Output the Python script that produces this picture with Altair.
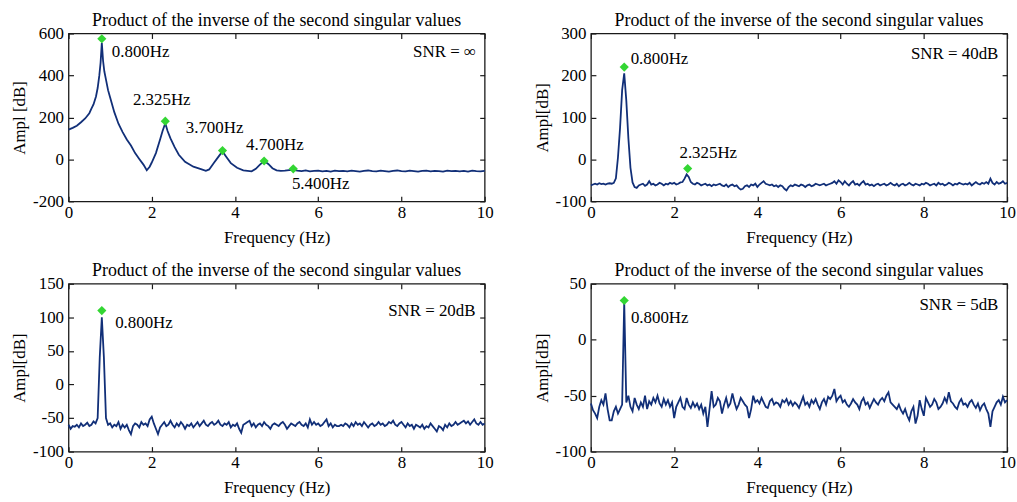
import altair as alt
import pandas as pd

FONT = "Liberation Serif"
LINE_C = "#112f78"
GREEN = "#33d633"
TITLE = "Product of the inverse of the second singular values"
FS = 17

# frequency grid (Hz) of the sampled spectra
F_GRID = [round(i * 0.05, 2) for i in range(201)]
X_TICKS = [0, 2, 4, 6, 8, 10]

# ---- panel 1 : SNR = inf ----
freq1 = [0.0, 0.1, 0.2, 0.3, 0.4, 0.5, 0.55, 0.6, 0.66, 0.7, 0.74, 0.77,
         0.8, 0.83, 0.86, 0.9, 0.95, 1.0, 1.1, 1.2, 1.3, 1.4, 1.5, 1.6, 1.7, 1.8,
         1.88, 1.95, 2.0, 2.1, 2.2, 2.26, 2.325, 2.38, 2.45, 2.55, 2.65, 2.8,
         3.0, 3.2, 3.3, 3.38, 3.5, 3.6, 3.7, 3.78, 3.9, 4.05, 4.2, 4.4, 4.5,
         4.6, 4.7, 4.8, 4.9, 5.0, 5.1, 5.2, 5.3, 5.4, 5.5,
         5.6, 5.7, 5.8, 5.9, 6.0, 6.1, 6.2, 6.3, 6.4, 6.5,
         6.6, 6.7, 6.8, 6.9, 7.0, 7.1, 7.2, 7.3, 7.4, 7.5,
         7.6, 7.7, 7.8, 7.9, 8.0, 8.1, 8.2, 8.3, 8.4, 8.5,
         8.6, 8.7, 8.8, 8.9, 9.0, 9.1, 9.2, 9.3, 9.4, 9.5,
         9.6, 9.7, 9.8, 9.9, 10.0]
amp1 = [142, 150, 160, 177, 195, 220, 242, 262, 300, 340, 400, 460,
        555, 470, 420, 380, 330, 295, 225, 170, 130, 95, 66, 30, 2, -25,
        -52, -35, -15, 30, 95, 135, 172, 135, 100, 58, 22, -12,
        -35, -48, -55, -48, -15, 12, 38, 15, -18, -40, -52, -57, -45,
        -25, -8, -22, -42, -52, -55, -54, -51, -50, -54,
        -56, -53, -57, -55, -54, -57, -55, -58, -54, -56,
        -55, -57, -54, -56, -58, -55, -53, -56, -57, -54,
        -56, -58, -55, -53, -56, -57, -54, -56, -58, -55,
        -54, -57, -55, -56, -58, -54, -56, -55, -57, -55,
        -58, -54, -56, -57, -55]
pk1_f = [0.8, 2.325, 3.7, 4.7, 5.4]
pk1_a = [575, 182, 42, -8, -45]
lab1_f = [1.04, 2.24, 3.51, 4.96, 6.06, 9.79]
lab1_a = [511, 283, 149, 67, -119, 511]
lab1_t = ["0.800Hz", "2.325Hz", "3.700Hz", "4.700Hz", "5.400Hz", "SNR = \u221e"]
lab1_al = ["left", "center", "center", "center", "center", "right"]

# ---- panel 2 : SNR = 40dB ----
amp2 = [-62, -60, -58, -60, -57, -59, -58, -60, -58, -57,
        -58, -56, -45, 5, 75, 165, 205, 140, 50, -20,
        -55, -66, -68, -62, -60, -58, -63, -60, -52, -60,
        -58, -62, -60, -56, -58, -62, -58, -60, -56, -58,
        -56, -60, -58, -55, -54, -46, -36, -42, -54, -58,
        -60, -56, -58, -62, -60, -58, -62, -60, -64, -60,
        -62, -60, -58, -62, -64, -60, -66, -62, -60, -64,
        -62, -68, -72, -70, -64, -62, -66, -60, -62, -58,
        -66, -60, -56, -52, -58, -60, -62, -60, -64, -62,
        -66, -62, -64, -70, -74, -66, -62, -64, -60, -62,
        -64, -60, -62, -66, -62, -60, -64, -62, -58, -60,
        -62, -60, -58, -62, -60, -58, -56, -52, -58, -50,
        -54, -60, -52, -58, -62, -56, -52, -60, -58, -62,
        -56, -52, -60, -58, -62, -60, -64, -60, -58, -62,
        -60, -58, -62, -60, -56, -60, -62, -58, -64, -60,
        -58, -62, -60, -56, -60, -62, -58, -60, -62, -58,
        -60, -56, -58, -62, -60, -58, -62, -56, -60, -58,
        -62, -60, -56, -58, -62, -58, -60, -56, -58, -60,
        -58, -60, -56, -62, -58, -54, -58, -60, -56, -58,
        -54, -58, -46, -56, -60, -54, -58, -56, -52, -58,
        -56]
pk2_f = [0.8, 2.325]
pk2_a = [220, -22]
lab2_f = [0.955, 2.82, 9.79]
lab2_a = [240, 14, 252]
lab2_t = ["0.800Hz", "2.325Hz", "SNR = 40dB"]
lab2_al = ["left", "center", "right"]

# ---- panel 3 : SNR = 20dB ----
amp3 = [-60, -66, -62, -63, -60, -64, -58, -62, -60, -57,
        -62, -60, -55, -58, -50, 40, 100, 40, -50, -60,
        -58, -64, -60, -62, -56, -66, -60, -64, -60, -68,
        -74, -62, -58, -60, -64, -56, -60, -58, -62, -52,
        -48, -58, -66, -74, -64, -60, -56, -62, -60, -54,
        -60, -64, -58, -62, -56, -60, -66, -60, -62, -58,
        -64, -60, -56, -62, -58, -54, -60, -62, -58, -56,
        -60, -58, -54, -60, -62, -58, -60, -56, -64, -60,
        -62, -58, -66, -72, -60, -58, -56, -54, -62, -58,
        -64, -60, -58, -62, -56, -60, -62, -66, -60, -58,
        -60, -62, -58, -56, -60, -66, -62, -58, -60, -62,
        -58, -56, -60, -62, -58, -64, -52, -60, -56, -60,
        -58, -62, -60, -56, -52, -62, -58, -64, -60, -62,
        -62, -60, -62, -58, -60, -64, -58, -62, -56, -60,
        -58, -62, -56, -60, -64, -60, -58, -62, -60, -56,
        -60, -58, -62, -60, -56, -58, -54, -60, -62, -58,
        -56, -60, -64, -58, -62, -60, -66, -60, -62, -64,
        -60, -66, -62, -64, -58, -62, -66, -70, -62, -64,
        -68, -60, -64, -58, -62, -60, -56, -60, -58, -56,
        -54, -58, -55, -60, -56, -52, -58, -60, -56, -60,
        -58]
pk3_f = [0.8]
pk3_a = [110]
lab3_f = [1.12, 9.78]
lab3_a = [91, 109]
lab3_t = ["0.800Hz", "SNR = 20dB"]
lab3_al = ["left", "right"]

# ---- panel 4 : SNR = 5dB ----
amp4 = [-57, -63, -66, -70, -60, -54, -58, -48, -62, -72,
        -72, -64, -60, -66, -62, -58, 34, -56, -50, -60,
        -64, -52, -58, -62, -56, -60, -50, -62, -55, -58,
        -52, -56, -50, -57, -60, -53, -58, -54, -60, -56,
        -70, -60, -56, -52, -60, -62, -52, -58, -61, -56,
        -60, -57, -62, -58, -66, -60, -78, -62, -46, -60,
        -58, -52, -55, -66, -58, -52, -60, -57, -48, -56,
        -62, -58, -52, -55, -58, -60, -70, -62, -50, -56,
        -54, -57, -52, -56, -60, -61, -55, -53, -58, -56,
        -57, -60, -54, -56, -53, -58, -55, -59, -56, -58,
        -61, -56, -51, -58, -56, -60, -54, -57, -53, -58,
        -62, -56, -53, -58, -51, -53, -50, -44, -55, -52,
        -50, -56, -54, -58, -60, -57, -53, -56, -58, -62,
        -55, -52, -58, -56, -61, -57, -53, -56, -58, -54,
        -52, -55, -50, -47, -56, -58, -60, -62, -58, -63,
        -66, -62, -68, -72, -64, -60, -75, -68, -54, -62,
        -68, -52, -56, -60, -58, -53, -56, -62, -60, -57,
        -52, -56, -47, -55, -57, -60, -62, -56, -53, -58,
        -57, -60, -56, -54, -58, -61, -57, -63, -59, -57,
        -62, -66, -78, -64, -60, -56, -54, -58, -51, -56,
        -54]
pk4_f = [0.8]
pk4_a = [35]
lab4_f = [0.96, 9.79]
lab4_a = [19, 31]
lab4_t = ["0.800Hz", "SNR = 5dB"]
lab4_al = ["left", "right"]

LABEL_EXPR = "'' + datum.value"


def make_panel(freq, amp, pk_f, pk_a, lab_f, lab_a, lab_t, lab_al,
               ydom, yvals, ytitle):
    xs = alt.Scale(domain=[0, 10], nice=False, zero=False)
    ys = alt.Scale(domain=ydom, nice=False, zero=False)
    df = pd.DataFrame({"f": freq, "a": amp})
    pk = pd.DataFrame({"f": pk_f, "a": pk_a})
    lab = pd.DataFrame({"f": lab_f, "a": lab_a, "t": lab_t, "al": lab_al})

    ax_x = alt.Axis(values=X_TICKS, title="Frequency (Hz)", offset=-5,
                    tickSize=5, domain=False, grid=False, labelPadding=3,
                    titlePadding=9, labelExpr=LABEL_EXPR, labelFlush=False)
    ax_y = alt.Axis(values=yvals, title=ytitle, offset=-5, tickSize=5,
                    domain=False, grid=False, labelPadding=5, titlePadding=4,
                    labelExpr=LABEL_EXPR)
    ax_top = alt.Axis(orient="top", values=X_TICKS, labels=False,
                      offset=-5, tickSize=5, domain=False, grid=False)
    ax_right = alt.Axis(orient="right", values=yvals, labels=False,
                        offset=-5, tickSize=5, domain=False, grid=False)

    line = alt.Chart(df).mark_line(color=LINE_C, strokeWidth=1.8).encode(
        x=alt.X("f:Q", scale=xs, axis=ax_x),
        y=alt.Y("a:Q", scale=ys, axis=ax_y),
    )
    pts = alt.Chart(pk).mark_point(shape="diamond", filled=True, size=85,
                                   color=GREEN, opacity=1).encode(
        x=alt.X("f:Q", scale=xs, axis=ax_top, title=None),
        y=alt.Y("a:Q", scale=ys, axis=ax_right, title=None),
    )
    layers = [line, pts]
    for al in ["left", "center", "right"]:
        sub = lab[lab.al == al]
        if len(sub):
            layers.append(
                alt.Chart(sub).mark_text(align=al, baseline="middle",
                                         fontSize=FS, font=FONT,
                                         color="black").encode(
                    x=alt.X("f:Q", scale=xs, axis=None),
                    y=alt.Y("a:Q", scale=ys, axis=None),
                    text="t:N",
                )
            )
    return alt.layer(*layers).resolve_scale(
        x="independent", y="independent"
    ).resolve_axis(
        x="independent", y="independent"
    ).properties(
        width=419, height=169,
        title=alt.TitleParams(TITLE, fontSize=18, font=FONT,
                              fontWeight="normal", offset=-5, color="black"),
    )


p1 = make_panel(freq1, amp1, pk1_f, pk1_a, lab1_f, lab1_a, lab1_t, lab1_al,
                [-200, 600], [-200, 0, 200, 400, 600], "Ampl [dB]")
p2 = make_panel(F_GRID, amp2, pk2_f, pk2_a, lab2_f, lab2_a, lab2_t, lab2_al,
                [-100, 300], [-100, 0, 100, 200, 300], "Ampl[dB]")
p3 = make_panel(F_GRID, amp3, pk3_f, pk3_a, lab3_f, lab3_a, lab3_t, lab3_al,
                [-100, 150], [-100, -50, 0, 50, 100, 150], "Ampl[dB]")
p4 = make_panel(F_GRID, amp4, pk4_f, pk4_a, lab4_f, lab4_a, lab4_t, lab4_al,
                [-100, 50], [-100, -50, 0, 50], "Ampl[dB]")

chart = alt.vconcat(
    alt.hconcat(p1, p2, spacing=38),
    alt.hconcat(p3, p4, spacing=38),
    spacing=15,
).properties(
    padding={"left": 10, "top": 9, "right": 0, "bottom": 0},
    background="white",
).configure_view(
    stroke="#1a1a1a", strokeWidth=1.3
).configure_axis(
    labelFont=FONT, labelFontSize=FS, labelColor="black",
    titleFont=FONT, titleFontSize=FS, titleFontWeight="normal",
    titleColor="black", tickColor="#1a1a1a", tickWidth=1.2,
).configure_title(
    font=FONT, fontSize=18, fontWeight="normal", anchor="middle"
)

chart.save("out.html", embed_options={"renderer": "svg", "actions": False})
